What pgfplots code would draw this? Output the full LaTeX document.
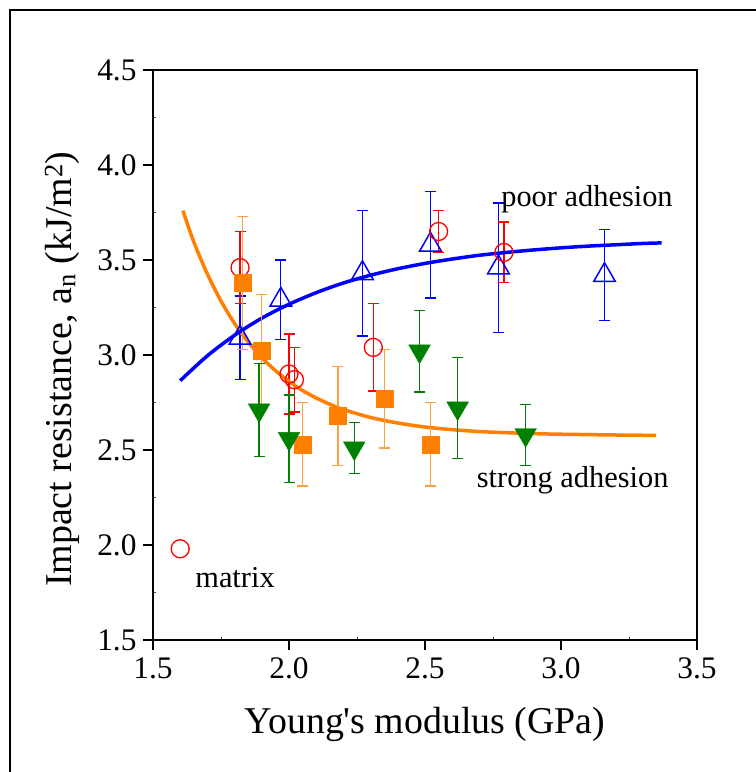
\documentclass[border=0pt]{standalone}
\usepackage{fontspec}
\setmainfont{Liberation Serif}
\usepackage{pgfplots}
\pgfplotsset{compat=1.18}
\definecolor{cblue}{RGB}{0,0,255}
\definecolor{cred}{RGB}{255,0,0}
\definecolor{corange}{RGB}{255,128,0}
\definecolor{cgreen}{RGB}{0,128,0}
\begin{document}
\begin{tikzpicture}
\path[use as bounding box] (0bp,0bp) rectangle (756bp,772bp);
\draw[line width=2bp] (10bp,0bp) -- (10bp,762bp) -- (756bp,762bp);
\begin{axis}[
  at={(153bp,132bp)}, anchor=south west,
  scale only axis, width=544bp, height=570bp,
  xmin=1.5, xmax=3.5, ymin=1.5, ymax=4.5,
  xtick={1.5,2.0,2.5,3.0,3.5}, ytick={1.5,2.0,2.5,3.0,3.5,4.0,4.5},
  minor xtick={1.75,2.25,2.75,3.25}, minor ytick={1.75,2.25,2.75,3.25,3.75,4.25},
  tick align=outside, tick pos=left,
  major tick length=10bp, minor tick length=3bp,
  axis line style={line width=2bp},
  every tick/.style={line width=2bp, black},
  every minor tick/.style={line width=1bp, black!70},
  minor x tick style={yshift=3bp},
  minor y tick style={xshift=3bp},
  /pgf/number format/assume math mode=true,
  /pgf/number format/fixed, /pgf/number format/fixed zerofill, /pgf/number format/precision=1,
  tick label style={font=\fontsize{31.5}{31.5}\selectfont},
  xticklabel style={yshift=-4bp},
  yticklabel style={xshift=-3bp},
  xlabel={Young\textquotesingle s modulus (GPa)},
  ylabel={Impact resistance, a\textsubscript{n} (kJ/m\textsuperscript{2})},
  label style={font=\fontsize{38}{38}\selectfont},
  xlabel style={at={(axis description cs:0.5,0)}, anchor=north, yshift=-64bp},
  ylabel style={at={(axis description cs:0,0.475)}, anchor=south, yshift=70bp},
  clip=false,
]
% blue open triangles (poor adhesion)
\addplot[only marks, color=cblue, mark=triangle, mark size=12.5bp, mark options={fill=white, line width=1.5bp},
  error bars/.cd, y dir=both, y explicit,
  error bar style={line width=1.3bp, cblue},
  error mark options={rotate=90, mark size=5.5bp, line width=1.3bp, cblue}]
  table[x=x, y=y, y error=e] {
x y e
1.82 3.09 0.22
1.97 3.29 0.21
2.27 3.43 0.33
2.52 3.58 0.28
2.77 3.46 0.34
3.16 3.42 0.24
};
% red open circles: matrix
\addplot[only marks, color=cred, mark=o, mark size=9bp, mark options={fill=white, line width=1.3bp}]
  table {
1.60 1.98
};
% red open circles
\addplot[only marks, color=cred, mark=o, mark size=9bp, mark options={fill=white, line width=1.3bp},
  error bars/.cd, y dir=both, y explicit,
  error bar style={line width=1.3bp, cred},
  error mark options={rotate=90, mark size=5.5bp, line width=1.3bp, cred}]
  table[x=x, y=y, y error=e] {
x y e
1.82 3.46 0.19
2.00 2.90 0.21
2.02 2.87 0.17
2.31 3.04 0.23
2.55 3.65 0.11
2.79 3.54 0.16
};
% orange fitted curve (strong adhesion)
\addplot[corange, line width=3.5bp, smooth, no marks] table {
1.61 3.760
1.65 3.595
1.70 3.426
1.75 3.284
1.80 3.166
1.85 3.068
1.90 2.986
1.95 2.918
2.00 2.861
2.05 2.813
2.10 2.774
2.15 2.741
2.20 2.713
2.30 2.671
2.40 2.642
2.50 2.621
2.60 2.607
2.70 2.597
2.80 2.591
2.90 2.586
3.00 2.583
3.20 2.579
3.35 2.577
};
% blue fitted curve (poor adhesion)
\addplot[cblue, line width=3.5bp, smooth, no marks] table {
1.60 2.865
1.70 2.996
1.80 3.104
1.90 3.194
2.00 3.267
2.10 3.328
2.20 3.379
2.30 3.420
2.40 3.454
2.50 3.482
2.60 3.505
2.70 3.525
2.80 3.540
2.90 3.553
3.00 3.564
3.10 3.573
3.20 3.580
3.30 3.587
3.37 3.590
};
% orange filled squares
\addplot[only marks, color=corange, mark=square*, mark size=8.5bp, mark options={fill=corange, draw=corange},
  error bars/.cd, y dir=both, y explicit,
  error bar style={line width=1.3bp, corange!75},
  error mark options={rotate=90, mark size=5.5bp, line width=1.3bp, corange!75}]
  table[x=x, y=y, y error=e] {
x y e
1.83 3.38 0.35
1.90 3.02 0.30
2.05 2.53 0.22
2.18 2.68 0.26
2.35 2.77 0.26
2.52 2.53 0.22
};
% green filled down triangles
\addplot[only marks, color=cgreen, mark=triangle*, mark size=12.5bp, mark options={fill=cgreen, draw=cgreen, rotate=180},
  error bars/.cd, y dir=both, y explicit,
  error bar style={line width=1.3bp, cgreen},
  error mark options={rotate=90, mark size=5.5bp, line width=1.3bp, cgreen}]
  table[x=x, y=y, y error=e] {
x y e
1.89 2.71 0.245
2.00 2.56 0.23
2.24 2.51 0.135
2.48 3.02 0.215
2.62 2.72 0.265
2.87 2.58 0.16
};
\node[anchor=west, font=\fontsize{30.5}{30.5}\selectfont, inner sep=0pt] at (axis cs:2.78,3.82) {poor adhesion};
\node[anchor=west, font=\fontsize{30.5}{30.5}\selectfont, inner sep=0pt] at (axis cs:2.69,2.34) {strong adhesion};
\node[anchor=west, font=\fontsize{30.5}{30.5}\selectfont, inner sep=0pt] at (axis cs:1.655,1.83) {matrix};
\end{axis}
\end{tikzpicture}
\end{document}
